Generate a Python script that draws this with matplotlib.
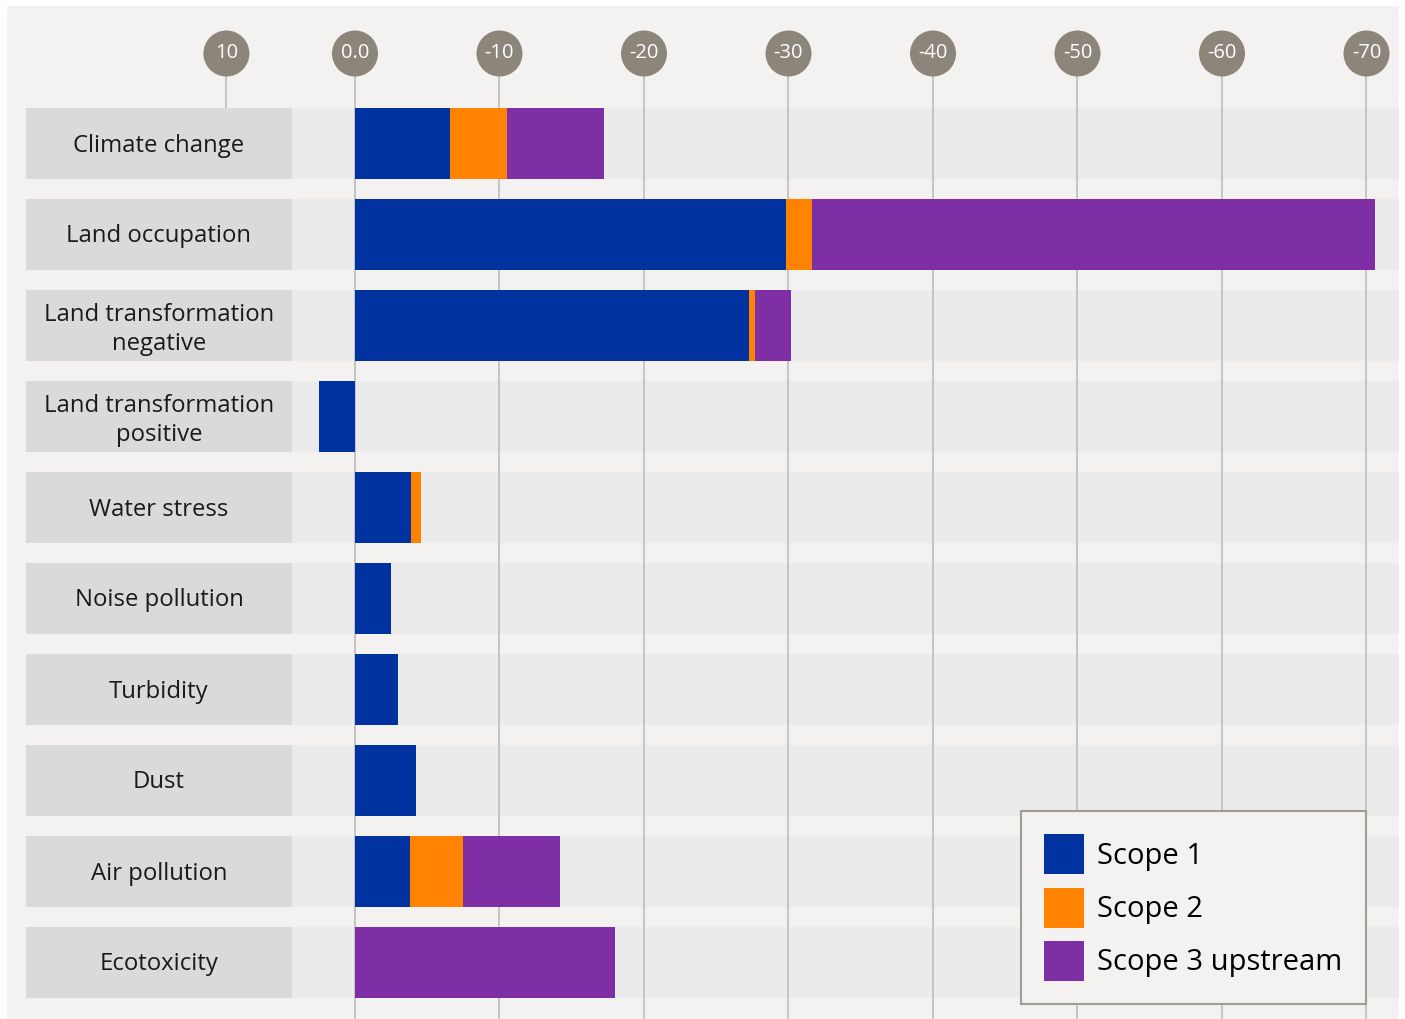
import matplotlib
matplotlib.use("Agg")
import matplotlib.pyplot as plt
from matplotlib.patches import Rectangle, Patch
import numpy as np

plt.rcParams['font.family'] = ['Open Sans', 'DejaVu Sans']

categories = ["Climate change", "Land occupation", "Land transformation\nnegative",
              "Land transformation\npositive", "Water stress", "Noise pollution",
              "Turbidity", "Dust", "Air pollution", "Ecotoxicity"]
scope1 = [-6.6, -29.8, -27.3, 2.5, -3.9, -2.5, -3.0, -4.2, -3.8, 0.0]
scope2 = [-3.9, -1.8, -0.35, 0.0, -0.7, 0.0, 0.0, 0.0, -3.7, 0.0]
scope3 = [-6.7, -39.0, -2.5, 0.0, 0.0, 0.0, 0.0, 0.0, -6.7, -18.0]
# the "10" marker sits slightly closer to zero in the original layout
tick_pos = [8.9, 0, -10, -20, -30, -40, -50, -60, -70]
tick_labels = ["10", "0.0", "-10", "-20", "-30", "-40", "-50", "-60", "-70"]
series_names = ["Scope 1", "Scope 2", "Scope 3 upstream"]

C_PANEL = "#f3f2f0"
C_BAND = "#ebebeb"
C_LABEL = "#dadad8"
C_CIRCLE = "#8c857a"
C_GRID = "#c4c4c4"
colors = ["#0033a0", "#ff8200", "#7f2fa5"]

W, H = 1405, 1019
fig = plt.figure(figsize=(W / 100, H / 100), dpi=100, facecolor="white")

fig.patches.append(Rectangle((7 / W, 0), (1399 - 7) / W, (H - 6) / H,
                             transform=fig.transFigure, facecolor=C_PANEL,
                             edgecolor="none", zorder=-10))

ax = fig.add_axes([26 / W, 0, (1399 - 26) / W, (H - 6) / H])
ax.patch.set_alpha(0)
for s in ax.spines.values():
    s.set_visible(False)
ax.set_xticks([])
ax.set_yticks([])

px_per_unit = 14.45
x0_px = 355
ax.set_xlim((x0_px - 26) / px_per_unit, (x0_px - 1399) / px_per_unit)
row_pitch = 91
row0 = 143.5
ytop = (6 - row0) / row_pitch
ybot = (H - row0) / row_pitch
ax.set_ylim(ybot, ytop)

n = len(categories)
y = np.arange(n)
bh = 71 / row_pitch
label_frac = (292 - 26) / (1399 - 26)
ytr = ax.get_yaxis_transform()

for i in range(n):
    ax.add_patch(Rectangle((0, i - bh / 2), 1, bh, transform=ytr,
                           facecolor=C_BAND, edgecolor="none", zorder=0))
    ax.add_patch(Rectangle((0, i - bh / 2), label_frac, bh, transform=ytr,
                           facecolor=C_LABEL, edgecolor="none", zorder=4))
    off = 4 if "\n" in categories[i] else 2
    ax.text(label_frac / 2, i + off / row_pitch, categories[i], transform=ytr,
            ha="center", va="center", fontsize=17.2, color="#1a1a1a", zorder=5,
            linespacing=1.25)

circ_y = (53.5 - row0) / row_pitch
line_top = (75 - row0) / row_pitch
for t, lab in zip(tick_pos, tick_labels):
    bottom = -bh / 2 if t > 0 else ybot
    ax.plot([t, t], [line_top, bottom], color=C_GRID, lw=1.4, zorder=1,
            solid_capstyle="butt")
    ax.scatter([t], [circ_y], s=(46 * 0.72) ** 2, color=C_CIRCLE, zorder=6,
               edgecolors="none", clip_on=False)
    ax.text(t, circ_y, lab, ha="center", va="center", color="white",
            fontsize=14.5, zorder=7)

left = np.zeros(n)
for vals, col, name in zip([scope1, scope2, scope3], colors, series_names):
    v = np.array(vals)
    ax.barh(y, v, left=left, height=bh, color=col, edgecolor="none", zorder=3, label=name)
    left = left + v

handles = [Patch(facecolor=c, edgecolor="none") for c in colors]
leg = ax.legend(handles, series_names, loc="upper right",
                bbox_to_anchor=(1366 / W, 1 - 811 / H), bbox_transform=fig.transFigure,
                borderaxespad=0, fontsize=21, frameon=True, fancybox=False,
                framealpha=1, facecolor=C_PANEL, edgecolor="#a19d95",
                handlelength=1.37, handleheight=1.73, handletextpad=0.45,
                labelspacing=0.46, borderpad=0.8)
leg.get_frame().set_linewidth(1.5)
leg.set_zorder(10)

fig.savefig("out.png", dpi=100, facecolor="white")
